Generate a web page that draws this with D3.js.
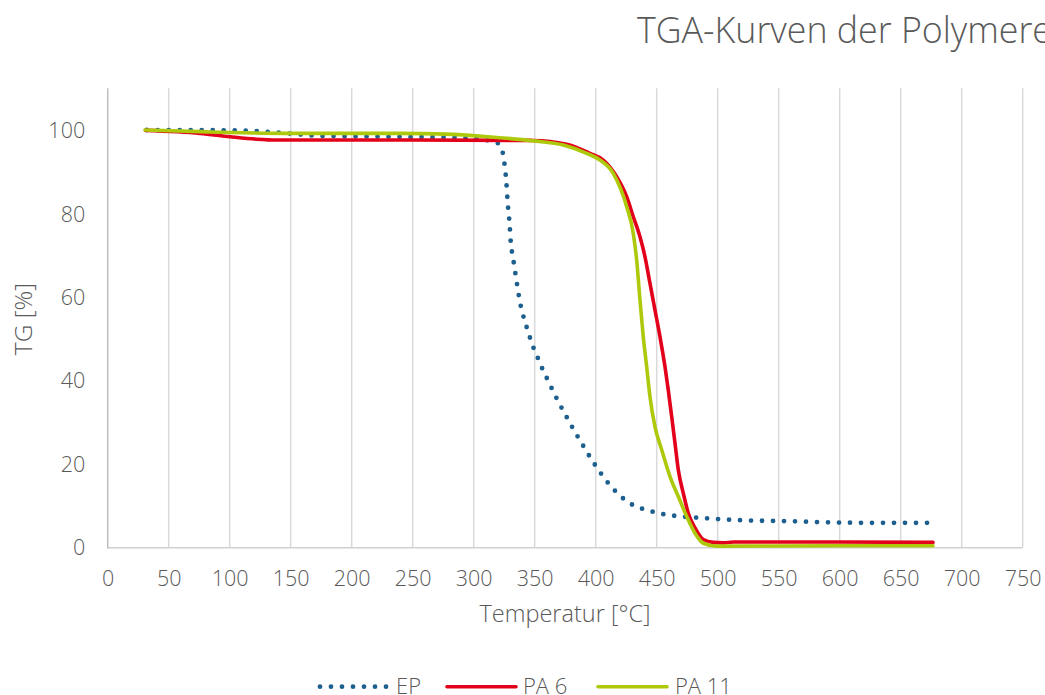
<!DOCTYPE html>
<html>
<head>
<meta charset="utf-8">
<script src="https://cdn.jsdelivr.net/npm/d3@7"></script>
<style>
  html, body { margin: 0; padding: 0; background: #fff; overflow: hidden; }
  svg { display: block; font-family: "Open Sans", "Noto Sans", sans-serif; font-weight: 300; }
</style>
</head>
<body>
<svg id="chart" width="1045" height="695"></svg>
<script>
// Thermogravimetric curves: residual mass TG [%] versus temperature [°C]
const epTemp = [32, 102.7, 138.5, 174, 228.7, 283, 317.5, 323, 324.8, 325.9, 326.7, 327.3, 327.9, 328.7, 329.5, 330, 330.8, 332.2, 333.6, 334.9, 336.3, 337.7, 339.8, 342, 344.8, 347.5, 351.1, 354.3, 357.9, 362, 365.8, 369.9, 374, 378.4, 382.8, 387.4, 392, 396.7, 401.6, 406.6, 412.3, 418.5, 425.4, 433, 441.5, 450.2, 458.7, 467.5, 484.9, 521, 556.6, 592, 627.9, 672.6];
const epTG   = [100, 99.9, 99.4, 98.6, 98.4, 98.2, 97.2, 95.4, 92.8, 90.2, 87.7, 85.1, 82.4, 79.9, 77.2, 74.6, 72, 69.4, 66.7, 64.2, 61.6, 59, 56.4, 54, 51.5, 48.9, 46.4, 44.1, 41.7, 39.3, 36.9, 34.6, 32.3, 30, 27.7, 25.4, 23.2, 20.9, 18.8, 16.7, 14.6, 12.7, 11, 9.7, 8.9, 8.2, 7.7, 7.4, 7, 6.4, 6.2, 5.9, 5.8, 5.8];

const pa6Temp = [31, 75.7, 100.2, 122.1, 138.5, 250, 348.6, 376.2, 395.3, 406.2, 417.2, 425.4, 430.8, 436.3, 440.4, 444.5, 448.6, 452.7, 456.8, 459.5, 462.3, 465, 467.7, 471.8, 475.9, 481.4, 488.2, 496.4, 504.3, 512.8, 600, 676.5];
const pa6TG   = [99.9, 99.2, 98.4, 97.8, 97.6, 97.6, 97.5, 96.6, 94.4, 92.8, 88.8, 84, 79.2, 74.4, 69.6, 63.2, 56.8, 50.4, 43.2, 37.6, 31.2, 24.9, 18.5, 12.9, 8.1, 4.6, 1.8, 1.1, 1.0, 1.2, 1.2, 1.1];

const pa11Temp = [30.6, 75.7, 100.2, 146.7, 239.6, 277.9, 310.7, 348.9, 373.4, 392.6, 403.5, 414.4, 425.4, 430.8, 433.6, 436.3, 439, 441.8, 444.5, 448.6, 454.1, 460.9, 467.7, 474.6, 481.4, 488.2, 499.2, 600, 676.5];
const pa11TG   = [100, 99.6, 99.4, 99.2, 99.2, 99, 98.4, 97.4, 96.4, 94.4, 92.8, 89.6, 81.6, 75.2, 68.8, 59.2, 50.4, 43.2, 36, 28.8, 23.3, 16.9, 12.1, 7.3, 3.3, 0.9, 0.2, 0.3, 0.3];

const xTicks = [0, 50, 100, 150, 200, 250, 300, 350, 400, 450, 500, 550, 600, 650, 700, 750];
const yTicks = [0, 20, 40, 60, 80, 100];

const seriesNames  = ["EP", "PA 6", "PA 11"];
const seriesColors = ["#1d5f8e", "#e3001b", "#aec90b"];

const series = [
  { name: seriesNames[0], color: seriesColors[0], dotted: true,  pts: epTemp.map((t, i) => [t, epTG[i]]) },
  { name: seriesNames[1], color: seriesColors[1], dotted: false, pts: pa6Temp.map((t, i) => [t, pa6TG[i]]) },
  { name: seriesNames[2], color: seriesColors[2], dotted: false, pts: pa11Temp.map((t, i) => [t, pa11TG[i]]) }
];

const svg = d3.select("#chart");
const textColor = "#595959";
const fontStack = "'Open Sans', 'Noto Sans', sans-serif";

const plot = { left: 107.7, right: 1022.7, top: 88.3, bottom: 547 };
const x = d3.scaleLinear().domain([0, 750]).range([plot.left, plot.right]);
const y = d3.scaleLinear().domain([0, 110]).range([plot.bottom, plot.top]);

// Title
svg.append("text")
  .attr("x", 637).attr("y", 43)
  .attr("font-size", 36).attr("font-weight", 300)
  .attr("fill", textColor)
  .attr("textLength", 415).attr("lengthAdjust", "spacingAndGlyphs")
  .text("TGA-Kurven der Polymere");

// Vertical gridlines
svg.append("g")
  .selectAll("line")
  .data(xTicks.filter(d => d > 0))
  .join("line")
  .attr("x1", d => x(d)).attr("x2", d => x(d))
  .attr("y1", plot.top).attr("y2", plot.bottom)
  .attr("stroke", "#d9d9d9").attr("stroke-width", 1.5);

// Axis lines
svg.append("line")
  .attr("x1", plot.left).attr("x2", plot.right)
  .attr("y1", plot.bottom + 0.8).attr("y2", plot.bottom + 0.8)
  .attr("stroke", "#d0d0d0").attr("stroke-width", 1.5);
svg.append("line")
  .attr("x1", plot.left).attr("x2", plot.left)
  .attr("y1", plot.top).attr("y2", plot.bottom + 1.5)
  .attr("stroke", "#bfbfbf").attr("stroke-width", 1.5);

// X axis tick labels
const xAxis = svg.append("g")
  .attr("transform", `translate(0,${plot.bottom})`)
  .call(d3.axisBottom(x).tickValues(xTicks).tickSize(0).tickPadding(0).tickFormat(d3.format("d")));
xAxis.select(".domain").remove();
xAxis.selectAll("text")
  .attr("y", 38.5).attr("dy", null)
  .attr("font-size", 21.5).attr("font-family", fontStack).attr("font-weight", 300)
  .attr("fill", textColor);

// Y axis tick labels
const yAxis = svg.append("g")
  .attr("transform", `translate(${plot.left},0)`)
  .call(d3.axisLeft(y).tickValues(yTicks).tickSize(0).tickPadding(0).tickFormat(d3.format("d")));
yAxis.select(".domain").remove();
yAxis.selectAll("text")
  .attr("x", -22.5).attr("dy", "0.36em")
  .attr("font-size", 21.5).attr("font-family", fontStack).attr("font-weight", 300)
  .attr("fill", textColor);

// Axis titles
svg.append("text")
  .attr("x", 565).attr("y", 622)
  .attr("text-anchor", "middle")
  .attr("font-size", 23.5).attr("fill", textColor)
  .text("Temperatur [°C]");
svg.append("text")
  .attr("transform", "translate(31.5,319) rotate(-90)")
  .attr("text-anchor", "middle")
  .attr("font-size", 24.5).attr("fill", textColor)
  .text("TG [%]");

// Curves
const line = d3.line()
  .x(d => x(d[0]))
  .y(d => y(d[1]))
  .curve(d3.curveMonotoneX);

function styleStroke(sel, s) {
  sel.attr("fill", "none")
    .attr("stroke", s.color)
    .attr("stroke-linecap", "round")
    .attr("stroke-linejoin", "round");
  if (s.dotted) {
    sel.attr("stroke-width", 4.8).attr("stroke-dasharray", "0,11");
  } else {
    sel.attr("stroke-width", 3.6);
  }
  return sel;
}

series.forEach(s => {
  svg.append("path").datum(s.pts).attr("d", line).call(styleStroke, s);
});

// Legend
const legendItems = [
  { s: series[0], x0: 320, x1: 388, tx: 396 },
  { s: series[1], x0: 447, x1: 516, tx: 523 },
  { s: series[2], x0: 598, x1: 667, tx: 675 }
];
const legend = svg.append("g");
legendItems.forEach(it => {
  legend.append("line")
    .attr("x1", it.x0).attr("x2", it.x1)
    .attr("y1", 686.7).attr("y2", 686.7)
    .call(styleStroke, it.s);
  legend.append("text")
    .attr("x", it.tx).attr("y", 693.5)
    .attr("font-size", 22).attr("fill", textColor)
    .text(it.s.name);
});
</script>
</body>
</html>
